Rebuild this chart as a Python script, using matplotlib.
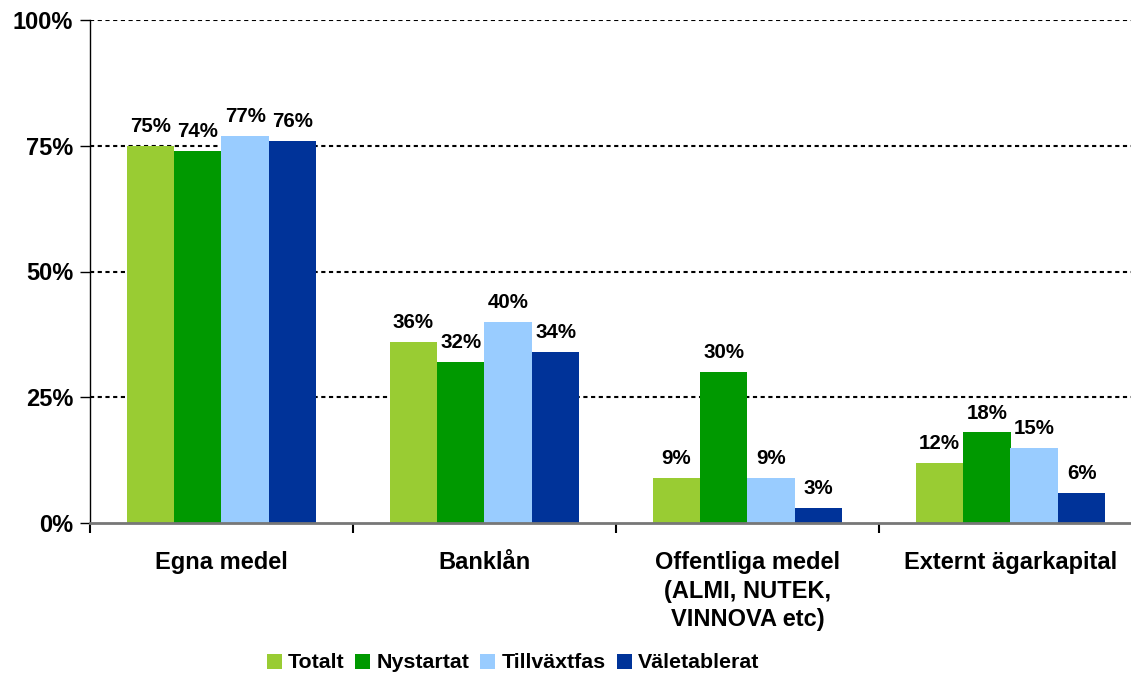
import matplotlib
matplotlib.use("Agg")
import matplotlib.pyplot as plt
import numpy as np

plt.rcParams['font.family'] = ['Liberation Sans', 'DejaVu Sans']
plt.rcParams['font.weight'] = 'bold'

# data
categories = ['Egna medel', 'Banklån', 'Offentliga medel\n(ALMI, NUTEK,\nVINNOVA etc)', 'Externt ägarkapital']
series = ['Totalt', 'Nystartat', 'Tillväxtfas', 'Väletablerat']
totalt = [75, 36, 9, 12]
nystartat = [74, 32, 30, 18]
tillvaxtfas = [77, 40, 9, 15]
valetablerat = [76, 34, 3, 6]
colors = ['#99CC33', '#009900', '#99CCFF', '#003399']

values = [totalt, nystartat, tillvaxtfas, valetablerat]

fig = plt.figure(figsize=(11.31, 6.76), dpi=100)
ax = fig.add_axes([90/1131, 1-523/676, 1052/1131, 503/676])

x = np.arange(len(categories))
w = 0.18
for i, (name, vals, c) in enumerate(zip(series, values, colors)):
    pos = x + (i - 1.5) * w
    bars = ax.bar(pos, vals, width=w, color=c, label=name, zorder=3)
    for b, v in zip(bars, vals):
        ax.annotate(f'{v}%', (b.get_x() + b.get_width()/2, v), xytext=(0, 7),
                    textcoords='offset points', ha='center', va='bottom',
                    fontsize=14.8, fontweight='bold', zorder=4)

ax.set_xlim(-0.5, len(categories) - 0.5)
ax.set_ylim(0, 100)
ax.set_yticks([0, 25, 50, 75, 100])
ax.set_yticklabels([f'{t}%' for t in [0, 25, 50, 75, 100]], fontsize=17, fontweight='bold')
ax.tick_params(axis='y', length=7, width=1, pad=5, direction='out')

ax.set_xticks(x)
ax.set_xticklabels(categories, fontsize=17, fontweight='bold', linespacing=1.32)
ax.tick_params(axis='x', which='major', length=0, pad=20)
ax.set_xticks(np.arange(len(categories) + 1) - 0.5, minor=True)
ax.tick_params(axis='x', which='minor', length=7, width=1.5, direction='out')

for yv in [25, 50, 75, 100]:
    ax.axhline(yv, color='black', lw=1.5, linestyle=(0, (2, 1.7)), zorder=1)

for s in ['top', 'right']:
    ax.spines[s].set_visible(False)
ax.spines['bottom'].set_color('#777777')
ax.spines['bottom'].set_linewidth(2)
ax.spines['bottom'].set_zorder(5)
ax.spines['left'].set_linewidth(1)

fig.legend(loc='center', bbox_to_anchor=(513/1131, 1-663/676), ncol=4, frameon=False,
           prop={'size': 15.4, 'weight': 'bold'}, handlelength=0.7, handleheight=0.7,
           handletextpad=0.3, columnspacing=0.5, borderpad=0, borderaxespad=0)

fig.savefig('out.png', dpi=100)
